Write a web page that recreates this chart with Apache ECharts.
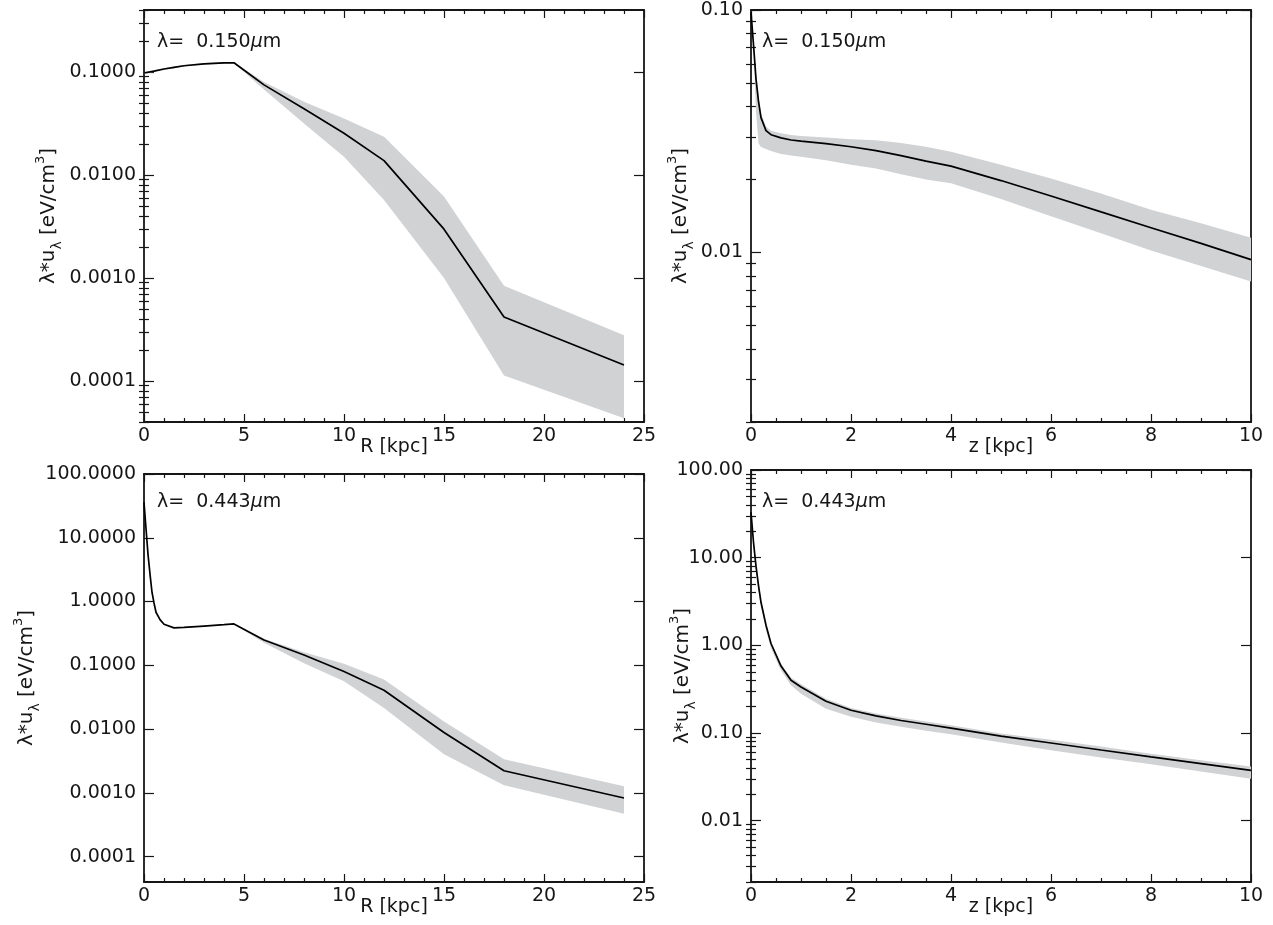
<!DOCTYPE html>
<html>
<head>
<meta charset="utf-8">
<script src="https://cdn.jsdelivr.net/npm/echarts@6/dist/echarts.min.js"></script>
<style>
  html, body { margin: 0; padding: 0; background: #ffffff; }
  #chart { width: 1273px; height: 925px; }
</style>
</head>
<body>
<div id="chart"></div>
<script>
// ---------------- data: radiation field energy density profiles ----------------
// Radial profiles (R in kpc)
const radius150 = [0, 0.5, 1, 1.5, 2, 3, 4, 4.5, 6, 8, 10, 12, 15, 18, 24];
const uR150     = [0.0978, 0.102, 0.107, 0.111, 0.115, 0.120, 0.1225, 0.123, 0.075, 0.044, 0.0254, 0.0138, 0.00298, 0.000418, 0.000143];
const uR150Hi   = [0.0995, 0.104, 0.109, 0.113, 0.117, 0.122, 0.125, 0.1245, 0.080, 0.0513, 0.0354, 0.0235, 0.00617, 0.00084, 0.000278];
const uR150Lo   = [0.0960, 0.100, 0.105, 0.109, 0.113, 0.118, 0.1205, 0.1215, 0.0676, 0.0316, 0.0150, 0.00573, 0.00100, 0.000113, 0.0000435];

const radius443 = [0, 0.1, 0.2, 0.3, 0.4, 0.5, 0.6, 0.8, 1, 1.5, 2, 3, 4, 4.5, 6, 8, 10, 12, 15, 18, 24];
const uR443     = [36, 14, 5.5, 2.7, 1.4, 0.95, 0.68, 0.52, 0.44, 0.386, 0.394, 0.413, 0.434, 0.445, 0.25, 0.145, 0.080, 0.0407, 0.00883, 0.00222, 0.00083];
const uR443Hi   = [36.5, 14.3, 5.6, 2.75, 1.43, 0.97, 0.69, 0.53, 0.45, 0.391, 0.399, 0.418, 0.44, 0.45, 0.262, 0.160, 0.106, 0.060, 0.0132, 0.00336, 0.00127];
const uR443Lo   = [35.5, 13.7, 5.4, 2.65, 1.37, 0.93, 0.67, 0.51, 0.43, 0.381, 0.389, 0.408, 0.43, 0.44, 0.225, 0.108, 0.056, 0.0215, 0.00403, 0.00132, 0.00047];

// Vertical profiles (z in kpc)
const height    = [0, 0.05, 0.1, 0.15, 0.2, 0.3, 0.4, 0.6, 0.8, 1, 1.5, 2, 2.5, 3, 3.5, 4, 5, 6, 7, 8, 9, 10];
const uZ150     = [0.098, 0.072, 0.052, 0.042, 0.036, 0.0318, 0.0306, 0.0297, 0.0291, 0.0288, 0.0281, 0.0273, 0.0263, 0.0251, 0.0238, 0.0227, 0.0198, 0.0171, 0.0147, 0.01265, 0.0109, 0.00935];
const uZ150Hi   = [0.099, 0.074, 0.054, 0.044, 0.0375, 0.033, 0.0318, 0.031, 0.0305, 0.0302, 0.0298, 0.0293, 0.029, 0.0283, 0.0273, 0.026, 0.023, 0.0202, 0.0175, 0.0150, 0.0132, 0.0115];
const uZ150Lo   = [0.097, 0.068, 0.038, 0.0282, 0.0272, 0.0267, 0.0262, 0.0255, 0.0251, 0.0248, 0.0240, 0.0230, 0.0222, 0.0210, 0.0200, 0.0193, 0.0166, 0.0141, 0.0120, 0.0102, 0.0088, 0.0076];

const uZ443     = [33, 15, 8.0, 4.8, 3.1, 1.7, 1.05, 0.58, 0.40, 0.335, 0.23, 0.182, 0.157, 0.139, 0.126, 0.114, 0.092, 0.077, 0.064, 0.0534, 0.0448, 0.0376];
const uZ443Hi   = [34, 15.5, 8.3, 5.0, 3.25, 1.78, 1.10, 0.615, 0.43, 0.36, 0.246, 0.193, 0.167, 0.149, 0.135, 0.123, 0.099, 0.084, 0.070, 0.058, 0.049, 0.0415];
const uZ443Lo   = [31, 13, 7.0, 4.2, 2.7, 1.5, 0.92, 0.52, 0.35, 0.28, 0.189, 0.153, 0.132, 0.118, 0.106, 0.097, 0.078, 0.0637, 0.0525, 0.044, 0.0365, 0.0301];

// Axis tick labels
const rTicks = [0, 5, 10, 15, 20, 25];
const zTicks = [0, 2, 4, 6, 8, 10];
const yMajor150R = [0.0001, 0.001, 0.01, 0.1];
const yMajor150Z = [0.01, 0.1];
const yMajor443R = [0.0001, 0.001, 0.01, 0.1, 1, 10, 100];
const yMajor443Z = [0.01, 0.1, 1, 10, 100];

// ---------------- styling ----------------
const FONT = 'DejaVu Sans';
const INK = '#161616';
const BAND = '#d1d2d4';

// minor log ticks at 2..9 x 10^k inside [lo, hi]
function logMinors(lo, hi) {
  const out = [];
  for (let e = Math.floor(Math.log10(lo)); e <= Math.ceil(Math.log10(hi)); e++) {
    for (let m = 2; m <= 9; m++) {
      const v = +(m * Math.pow(10, e)).toPrecision(3);
      if (v >= lo * 0.9999 && v <= hi * 1.0001) out.push(v);
    }
  }
  return out;
}

const panels = [
  { grid: { left: 144, top: 10, width: 500, height: 412 },
    xs: radius150, line: uR150, hi: uR150Hi, lo: uR150Lo,
    xMax: 25, xStep: 5, xSplit: 5, xName: 'R [kpc]',
    yMin: 4e-5, yMax: 0.4, yMajor: yMajor150R, minors: true, digits: 4, nameGap: 80,
    tag: '0.150', tagX: 157, tagY: 42 },
  { grid: { left: 751, top: 10, width: 500, height: 412 },
    xs: height, line: uZ150, hi: uZ150Hi, lo: uZ150Lo,
    xMax: 10, xStep: 2, xSplit: 4, xName: 'z [kpc]',
    yMin: 0.002, yMax: 0.1, yMajor: yMajor150Z, minors: true, digits: 2, nameGap: 55,
    tag: '0.150', tagX: 762, tagY: 42 },
  { grid: { left: 144, top: 474, width: 500, height: 408 },
    xs: radius443, line: uR443, hi: uR443Hi, lo: uR443Lo,
    xMax: 25, xStep: 5, xSplit: 5, xName: 'R [kpc]',
    yMin: 4e-5, yMax: 100, yMajor: yMajor443R, minors: false, digits: 4, nameGap: 102,
    tag: '0.443', tagX: 157, tagY: 502 },
  { grid: { left: 751, top: 470, width: 500, height: 412 },
    xs: height, line: uZ443, hi: uZ443Hi, lo: uZ443Lo,
    xMax: 10, xStep: 2, xSplit: 4, xName: 'z [kpc]',
    yMin: 0.002, yMax: 100, yMajor: yMajor443Z, minors: true, digits: 2, nameGap: 53,
    tag: '0.443', tagX: 762, tagY: 502 }
];

const lineStyle = { color: INK, width: 1.8 };
const tickStyle = { color: INK, width: 1.2 };
const labelFont = { fontFamily: FONT, fontSize: 19, color: INK };

function bandRenderer(params, api) {
  if (params.dataIndexInside !== 0) return null;
  const n = params.dataInsideLength;
  const upper = [], lower = [];
  for (let k = 0; k < n; k++) {
    const x = api.value(0, k);
    upper.push(api.coord([x, api.value(2, k)]));
    lower.push(api.coord([x, api.value(1, k)]));
  }
  return {
    type: 'polygon',
    shape: { points: upper.concat(lower.reverse()) },
    style: { fill: BAND },
    silent: true
  };
}

const grids = [], xAxes = [], yAxes = [], series = [], graphics = [];

panels.forEach((p, i) => {
  grids.push(Object.assign({ containLabel: false, outerBoundsMode: 'none' }, p.grid));

  const xBase = {
    gridIndex: i, type: 'value', min: 0, max: p.xMax, interval: p.xStep,
    axisLine: { show: true, onZero: false, lineStyle },
    axisTick: { show: true, inside: true, length: 8, lineStyle: tickStyle },
    minorTick: { show: true, splitNumber: p.xSplit, length: 4, lineStyle: tickStyle },
    splitLine: { show: false }, minorSplitLine: { show: false }
  };
  xAxes.push(Object.assign({}, xBase, {
    position: 'bottom',
    axisLabel: Object.assign({ show: true, margin: 5, formatter: v => String(v),
      customValues: p.xMax === 25 ? rTicks : zTicks }, labelFont),
    name: p.xName, nameLocation: 'middle', nameGap: 16, nameMoveOverlap: false,
    nameTextStyle: { fontFamily: FONT, fontSize: 19, color: INK }
  }));
  xAxes.push(Object.assign({}, xBase, { position: 'top', axisLabel: { show: false } }));

  const minors = p.minors ? logMinors(p.yMin, p.yMax) : [];
  const yBase = {
    gridIndex: i, type: 'log', logBase: 10, min: p.yMin, max: p.yMax,
    splitLine: { show: false }, minorTick: { show: false }, minorSplitLine: { show: false }
  };
  const majorAxis = pos => Object.assign({}, yBase, {
    position: pos,
    axisLine: { show: true, onZero: false, lineStyle },
    axisTick: { show: true, inside: true, length: 10, lineStyle: tickStyle, customValues: p.yMajor }
  });
  const minorAxis = pos => Object.assign({}, yBase, {
    position: pos,
    axisLine: { show: false },
    axisLabel: { show: false },
    axisTick: { show: minors.length > 0, inside: true, length: 5, lineStyle: tickStyle,
      customValues: minors.length ? minors : p.yMajor }
  });

  yAxes.push(Object.assign(majorAxis('left'), {
    axisLabel: Object.assign({ show: true, margin: 8, customValues: p.yMajor,
      formatter: v => Number(v).toFixed(p.digits) }, labelFont),
    name: '{m|λ*u}{s|λ}{m| [eV/cm}{p|3}{m|]}',
    nameLocation: 'middle', nameGap: p.nameGap, nameRotate: 90, nameMoveOverlap: false,
    nameTextStyle: {
      fontFamily: FONT, fontSize: 20, color: INK,
      rich: {
        m: { fontFamily: FONT, fontSize: 20, color: INK, lineHeight: 30 },
        s: { fontFamily: FONT, fontSize: 14, color: INK, lineHeight: 15, verticalAlign: 'bottom' },
        p: { fontFamily: FONT, fontSize: 13, color: INK, lineHeight: 15, verticalAlign: 'top' }
      }
    }
  }));
  yAxes.push(minorAxis('left'));
  yAxes.push(Object.assign(majorAxis('right'), { axisLabel: { show: false } }));
  yAxes.push(minorAxis('right'));

  series.push({
    type: 'custom', xAxisIndex: 2 * i, yAxisIndex: 4 * i,
    data: p.xs.map((x, k) => [x, p.lo[k], p.hi[k]]),
    encode: { x: 0, y: [1, 2] },
    renderItem: bandRenderer, silent: true, z: 1
  });
  series.push({
    type: 'line', xAxisIndex: 2 * i, yAxisIndex: 4 * i,
    data: p.xs.map((x, k) => [x, p.line[k]]),
    showSymbol: false, symbol: 'none', silent: true, z: 3,
    lineStyle: { color: '#000000', width: 1.7 }
  });

  graphics.push({
    type: 'text', x: p.tagX, y: p.tagY, silent: true,
    style: {
      text: '{n|λ=  ' + p.tag + '}{i|μ}{n|m}',
      verticalAlign: 'middle',
      rich: {
        n: { fontFamily: FONT, fontSize: 19, fill: INK, color: INK },
        i: { fontFamily: FONT, fontSize: 19, fontStyle: 'italic', fill: INK, color: INK }
      }
    }
  });
});

const chart = echarts.init(document.getElementById('chart'), null, { renderer: 'canvas' });
chart.setOption({
  backgroundColor: '#ffffff',
  animation: false,
  grid: grids,
  xAxis: xAxes,
  yAxis: yAxes,
  series: series,
  graphic: graphics
});
</script>
</body>
</html>
